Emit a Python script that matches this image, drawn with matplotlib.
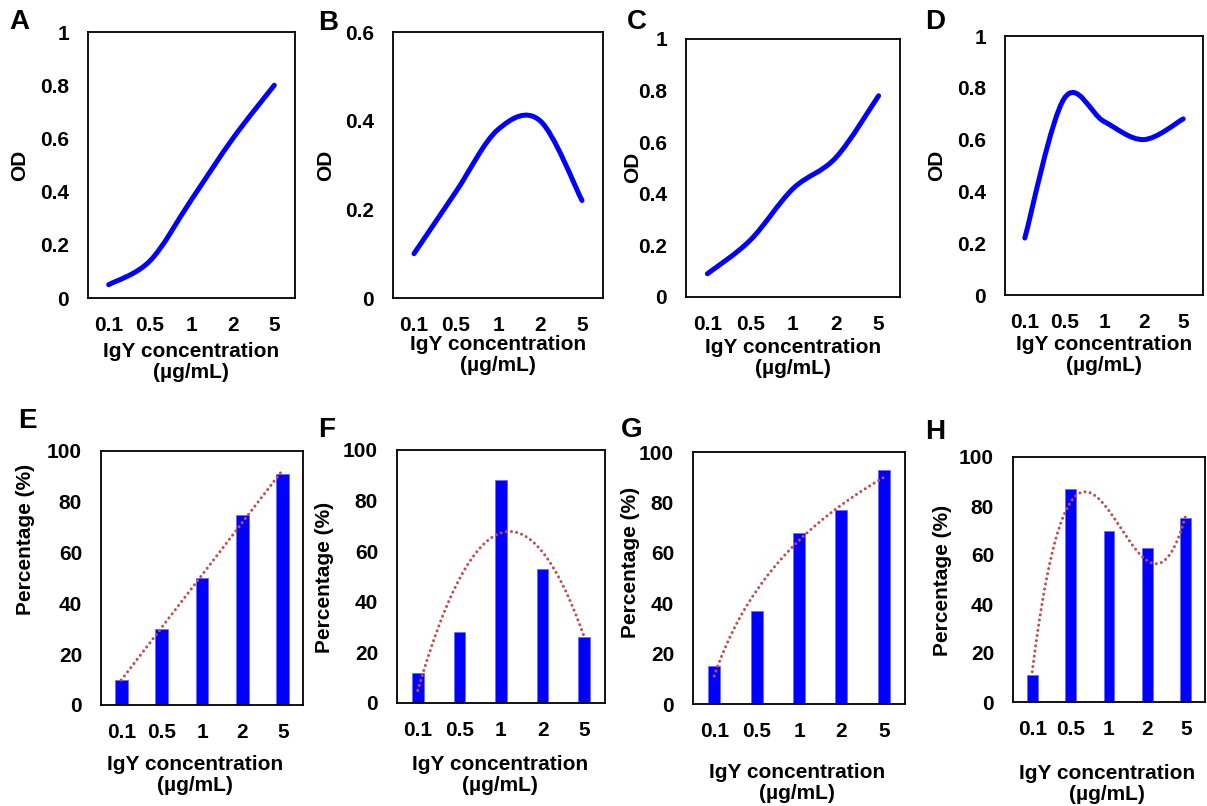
"""ELISA OD curves (A-D) and percentage bars with trendlines (E-H)."""

import matplotlib
matplotlib.use("Agg")

import matplotlib.pyplot as plt
import numpy as np
from matplotlib.path import Path
from matplotlib.patches import PathPatch

plt.rcParams["font.family"] = ["Liberation Sans", "DejaVu Sans"]
plt.rcParams["font.weight"] = "bold"

W, H = 1207, 806

conc_labels = ["0.1", "0.5", "1", "2", "5"]
xlabel_text = "IgY concentration\n(\u00b5g/mL)"

# top row: OD values (smoothed lines)
od_a = [0.05, 0.14, 0.37, 0.60, 0.80]
od_b = [0.10, 0.24, 0.38, 0.40, 0.22]
od_c = [0.09, 0.22, 0.42, 0.54, 0.78]
od_d = [0.22, 0.76, 0.67, 0.60, 0.68]

od_ticks = [0, 0.2, 0.4, 0.6, 0.8, 1]
od_ticklabels = ["0", "0.2", "0.4", "0.6", "0.8", "1"]
od_ticks_b = [0, 0.2, 0.4, 0.6]
od_ticklabels_b = ["0", "0.2", "0.4", "0.6"]

# bottom row: percentages (bars + Excel-style trendlines)
pct_e = [10, 30, 50, 75, 91]
pct_f = [12, 28, 88, 53, 26]
pct_g = [15, 37, 68, 77, 93]
pct_h = [11, 87, 70, 63, 75]
pct_ticks = [0, 20, 40, 60, 80, 100]

# trendline kind per panel: linear, poly2, log, poly3
trend_kinds = {"E": "poly1", "F": "poly2", "G": "log", "H": "poly3"}

# layout in pixels: box (left, top, right, bottom), ylabel centre,
# xlabel centre, panel letter centre
layout = {
    "A": dict(box=(88, 32, 295, 298), ylab=(20, 165), xlab=(191, 362), letter=(19, 22)),
    "B": dict(box=(393, 32, 603, 298), ylab=(326, 165), xlab=(498, 355), letter=(328, 23)),
    "C": dict(box=(686, 39, 900, 297), ylab=(633, 167), xlab=(793, 358), letter=(637, 22)),
    "D": dict(box=(1005, 36, 1203, 295), ylab=(937, 165), xlab=(1104, 355), letter=(935, 22)),
    "E": dict(box=(101, 451, 303, 705), ylab=(26, 539), xlab=(195, 775), letter=(27, 421)),
    "F": dict(box=(397, 450, 605, 703), ylab=(325, 577), xlab=(500, 775), letter=(327, 430)),
    "G": dict(box=(693, 452, 905, 704), ylab=(631, 562), xlab=(797, 783), letter=(632, 430)),
    "H": dict(box=(1013, 457, 1205, 702), ylab=(942, 580), xlab=(1107, 784), letter=(935, 432)),
}

FS = 15
PX = 72 / 100  # points per pixel


def smooth_path(xs, ys):
    # Excel-like smoothed line: cubic Bezier through the points
    pts = np.column_stack([xs, ys]).astype(float)
    ext = np.vstack([pts[0], pts, pts[-1]])
    verts = [pts[0]]
    codes = [Path.MOVETO]
    for i in range(len(pts) - 1):
        p0, p1, p2, p3 = ext[i], ext[i + 1], ext[i + 2], ext[i + 3]
        verts += [p1 + (p2 - p0) / 6, p2 - (p3 - p1) / 6, p2]
        codes += [Path.CURVE4] * 3
    return Path(verts, codes)


def trend(values, kind):
    xs = np.arange(1, len(values) + 1, dtype=float)
    xf = np.linspace(1, len(values), 200)
    if kind == "log":
        b, a = np.polyfit(np.log(xs), values, 1)
        yf = a + b * np.log(xf)
    else:
        deg = int(kind[-1])
        yf = np.polyval(np.polyfit(xs, values, deg), xf)
    return xf - 1, yf


def make_axes(fig, key):
    l, t, r, b = layout[key]["box"]
    ax = fig.add_axes([l / W, 1 - b / H, (r - l) / W, (b - t) / H])
    ax.set_xlim(-0.5, 4.5)
    ax.set_xticks(range(5))
    ax.set_xticklabels(conc_labels)
    ax.tick_params(axis="x", length=0, pad=18 * PX, labelsize=FS)
    ax.tick_params(axis="y", length=0, pad=19 * PX, labelsize=FS)
    for s in ax.spines.values():
        s.set_linewidth(1.3)
    return ax


def add_texts(fig, key, ylabel):
    lay = layout[key]
    x, y = lay["ylab"]
    fig.text(x / W, 1 - y / H, ylabel, rotation=90, ha="center", va="center",
             fontsize=FS, fontweight="bold")
    x, y = lay["xlab"]
    fig.text(x / W, 1 - y / H, xlabel_text, ha="center", va="center",
             fontsize=FS, fontweight="bold", linespacing=1.15)
    x, y = lay["letter"]
    fig.text(x / W, 1 - y / H, key, ha="center", va="center",
             fontsize=20, fontweight="bold")


fig = plt.figure(figsize=(W / 100, H / 100), dpi=100)

for key, vals in zip("ABCD", [od_a, od_b, od_c, od_d]):
    ax = make_axes(fig, key)
    if key == "B":
        ax.set_ylim(0, 0.6)
        ax.set_yticks(od_ticks_b)
        ax.set_yticklabels(od_ticklabels_b)
    else:
        ax.set_ylim(0, 1)
        ax.set_yticks(od_ticks)
        ax.set_yticklabels(od_ticklabels)
    ax.add_patch(PathPatch(smooth_path(range(len(vals)), vals), fill=False,
                           edgecolor="#0000FF", lw=3.6, capstyle="round",
                           joinstyle="round"))
    add_texts(fig, key, "OD")

for key, vals in zip("EFGH", [pct_e, pct_f, pct_g, pct_h]):
    ax = make_axes(fig, key)
    ax.set_ylim(0, 100)
    ax.set_yticks(pct_ticks)
    width = 0.32 if key == "E" else 0.28
    ax.bar(range(len(vals)), vals, width=width, color="#0000FF",
           edgecolor="#6a6aff", linewidth=0.6, zorder=2)
    xf, yf = trend(vals, trend_kinds[key])
    ax.plot(xf, yf, color="#C0504D", lw=2.2, linestyle=(0, (0.01, 1.7)),
            dash_capstyle="round", zorder=3)
    add_texts(fig, key, "Percentage (%)")

fig.savefig("out.png", dpi=100)
